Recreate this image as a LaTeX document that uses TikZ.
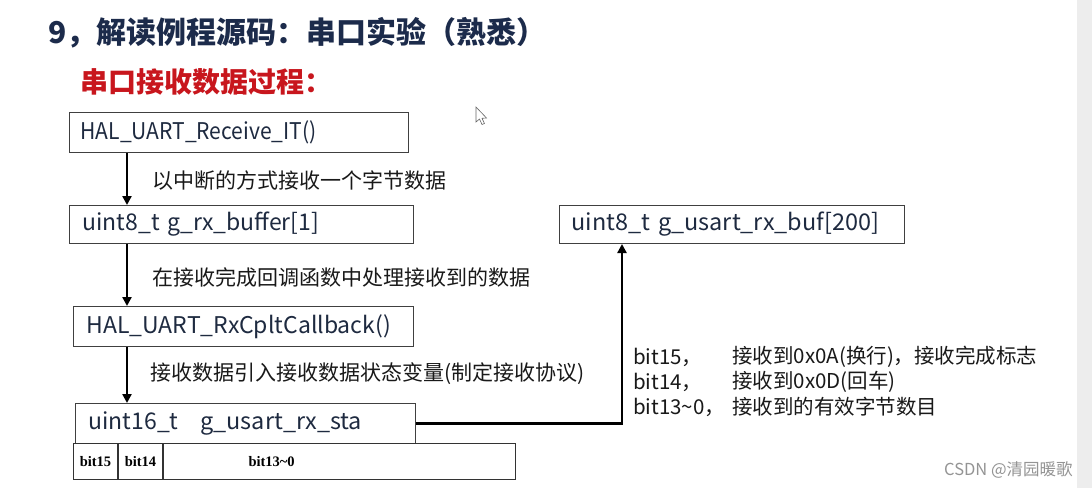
\documentclass[tikz,border=0pt]{standalone}
\usepackage{fontspec}
\setmainfont{Noto Sans CJK SC}
\newfontfamily\serifb{Liberation Serif}
\usetikzlibrary{arrows.meta}
\definecolor{navy}{HTML}{1C2B4B}
\definecolor{boxtxt}{HTML}{1E2A40}
\definecolor{subred}{HTML}{C8161D}
\begin{document}
\begin{tikzpicture}[x=1pt,y=-1pt,
  box/.style={draw=black!75, line width=1pt, anchor=north west, inner ysep=0pt,
    align=left, text=boxtxt, font=\fontsize{23}{25}\selectfont},
  cell/.style={draw=black!80, line width=1pt, anchor=north west, inner sep=0pt,
    minimum height=36pt, font=\serifb\bfseries\fontsize{14.5}{16}\selectfont},
  arr/.style={line width=2.8pt, -{Triangle[length=9pt,width=9pt]}},
  lbl/.style={anchor=west, inner sep=0pt, text=black!90, font=\fontsize{21}{23}\selectfont},
  rt/.style={anchor=west, inner sep=0pt, text=black!90, font=\fontsize{20.5}{22}\selectfont}]
\useasboundingbox (0,0) rectangle (1092,488);
\fill[white] (0,0) rectangle (1092,488);
% titles
\node[anchor=west, inner sep=0pt, text=navy, font=\bfseries\fontsize{30}{32}\selectfont] (title) at (48,33) {9，解读例程源码：串口实验（熟悉）};
\node[anchor=west, inner sep=0pt, text=subred, font=\bfseries\fontsize{28}{30}\selectfont] (sub) at (80,82) {串口接收数据过程：};
% cursor
\filldraw[fill=white, draw=black!60, line width=0.6pt] (476,107) -- (476,122) -- (479.5,119) -- (482,124.5) -- (484.5,123.5) -- (482,118.3) -- (486.5,118) -- cycle;
% boxes
\node[box, minimum width=339pt, minimum height=40pt, text width=317pt, inner xsep=11pt] (b1) at (69,112) {\scalebox{0.915}[1]{HAL\_UART\_Receive\_IT()}};
\node[box, minimum width=344pt, minimum height=38pt, text width=318pt, inner xsep=13pt] (b2) at (69,205) {uint8\_t g\_rx\_buffer[1]};
\node[box, minimum width=340pt, minimum height=40pt, text width=314pt, inner xsep=13pt] (b3) at (73,306) {HAL\_UART\_RxCpltCallback()};
\node[box, minimum width=340pt, minimum height=40pt, text width=314pt, inner xsep=13pt] (b4) at (75,403) {uint16\_t\hspace{0.95em}\scalebox{1.02}[1]{g\_usart\_rx\_sta}};
\node[box, minimum width=345pt, minimum height=38pt, text width=321pt, inner xsep=12pt] (b5) at (559,205) {\scalebox{1.02}[1]{uint8\_t g\_usart\_rx\_buf[200]}};
% bit table
\node[cell, minimum width=44pt] (c15) at (73,443) {bit15};
\node[cell, minimum width=44pt] (c14) at (c15.north east) {bit14};
\node[cell, minimum width=352pt, text width=352pt, align=left] (c13) at (c14.north east) {\hspace{85pt}bit13\textasciitilde0};
% arrows
\draw[arr] ([xshift=58pt]b1.south west) -- ([xshift=58pt]b2.north west);
\draw[arr] ([xshift=58pt]b2.south west) -- ([xshift=54pt]b3.north west);
\draw[arr] ([xshift=54pt]b3.south west) -- ([xshift=52pt]b4.north west);
\draw[arr] (b4.east) -| ([xshift=63pt]b5.south west);
% labels
\node[lbl] (l1) at (152,181) {以中断的方式接收一个字节数据};
\node[lbl] (l2) at (152,277) {在接收完成回调函数中处理接收到的数据};
\node[lbl] (l3) at (150,374) {接收数据引入接收数据状态变量(制定接收协议)};
% right text
\node[rt] (r1a) at (633,357) {bit15，};
\node[rt] (r1b) at (732,357) {接收到0x0A(换行)，接收完成标志};
\node[rt] (r2a) at (633,382) {bit14，};
\node[rt] (r2b) at (732,382) {接收到0x0D(回车)};
\node[rt] (r3a) at (633,407) {bit13\textasciitilde0，};
\node[rt] (r3b) at (732,407) {接收到的有效字节数目};
% watermark
\node[anchor=west, inner sep=0pt, text=black!42, font=\fontsize{16.5}{18}\selectfont] (wm) at (944,470) {CSDN @清园暖歌};
\fill[black!7] (1077,0) rectangle (1092,488);
\end{tikzpicture}
\end{document}
